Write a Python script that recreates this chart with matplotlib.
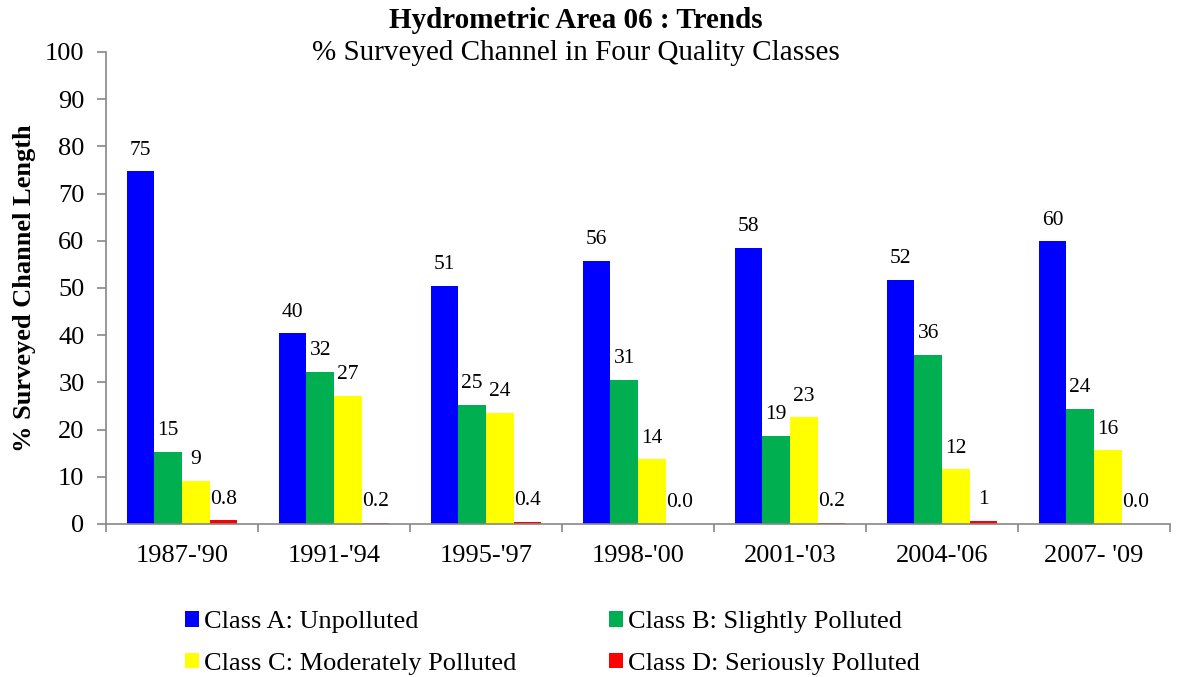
import numpy as np
import matplotlib.pyplot as plt
from matplotlib.patches import Patch

plt.rcParams['font.family'] = ['Liberation Serif', 'DejaVu Serif']

periods = ["1987-'90", "1991-'94", "1995-'97", "1998-'00", "2001-'03", "2004-'06", "2007- '09"]
class_a = [74.7, 40.4, 50.5, 55.7, 58.5, 51.7, 59.9]
class_b = [15.3, 32.3, 25.3, 30.6, 18.7, 35.8, 24.4]
class_c = [9.1, 27.1, 23.6, 13.7, 22.6, 11.6, 15.6]
class_d = [0.8, 0.2, 0.4, 0.0, 0.2, 0.7, 0.0]

labels_a = ["75", "40", "51", "56", "58", "52", "60"]
labels_b = ["15", "32", "25", "31", "19", "36", "24"]
labels_c = ["9", "27", "24", "14", "23", "12", "16"]
labels_d = ["0.8", "0.2", "0.4", "0.0", "0.2", "1", "0.0"]

names = ["Class A: Unpolluted", "Class B: Slightly Polluted",
         "Class C: Moderately Polluted", "Class D: Seriously Polluted"]
colors = ["#0000FF", "#00B050", "#FFFF00", "#FF0000"]

fig = plt.figure(figsize=(11.77, 6.77), dpi=100)
ax = fig.add_axes([106/1177, 153/677, 1064/1177, 472/677])

x = np.arange(len(periods))
w = 0.182
series = [class_a, class_b, class_c, class_d]
labs = [labels_a, labels_b, labels_c, labels_d]
for i, (vals, lab) in enumerate(zip(series, labs)):
    pos = x + (i - 1.5) * w
    ax.bar(pos, vals, width=w, color=colors[i], edgecolor='none')
    for p, v, t in zip(pos, vals, lab):
        ax.annotate(t, (p, v), xytext=(0, 12), textcoords='offset points',
                    ha='center', va='baseline', fontsize=15.5)

ax.set_xlim(-0.5, len(periods) - 0.5)
ax.set_ylim(0, 100)
ax.set_yticks(np.arange(0, 101, 10))
ax.set_xticks(x)
ax.set_xticklabels(periods)
ax.set_xticks(np.arange(-0.5, len(periods), 1), minor=True)
ax.tick_params(axis='x', which='major', length=0, labelsize=19, pad=15)
ax.tick_params(axis='x', which='minor', length=6, color='#888888', width=1.2)
ax.tick_params(axis='y', length=6.5, color='#888888', width=1.2, labelsize=19, pad=9)

for s in ['top', 'right']:
    ax.spines[s].set_visible(False)
for s in ['left', 'bottom']:
    ax.spines[s].set_color('#888888')
    ax.spines[s].set_linewidth(1.2)

ax.set_ylabel("% Surveyed Channel Length", fontsize=19, fontweight='bold')
ax.yaxis.set_label_coords(-0.066, 0.5)

fig.text(0.489, 1 - 28/677, "Hydrometric Area 06 : Trends", ha='center', va='baseline',
         fontsize=21, fontweight='bold')
fig.text(0.489, 1 - 60/677, "% Surveyed Channel in Four Quality Classes", ha='center',
         va='baseline', fontsize=21)

# legend fills column by column, so order handles to read A,B / C,D across rows
handles = [Patch(facecolor=c, edgecolor='none') for c in colors]
order = [0, 2, 1, 3]
fig.legend([handles[k] for k in order], [names[k] for k in order],
           loc='center left', bbox_to_anchor=(185/1177, 1 - 643/677),
           ncol=2, frameon=False, fontsize=19, handlelength=0.53, handleheight=0.53,
           handletextpad=0.2, columnspacing=3.5, labelspacing=0.75,
           borderpad=0, borderaxespad=0)

fig.savefig('out.png', dpi=100)
